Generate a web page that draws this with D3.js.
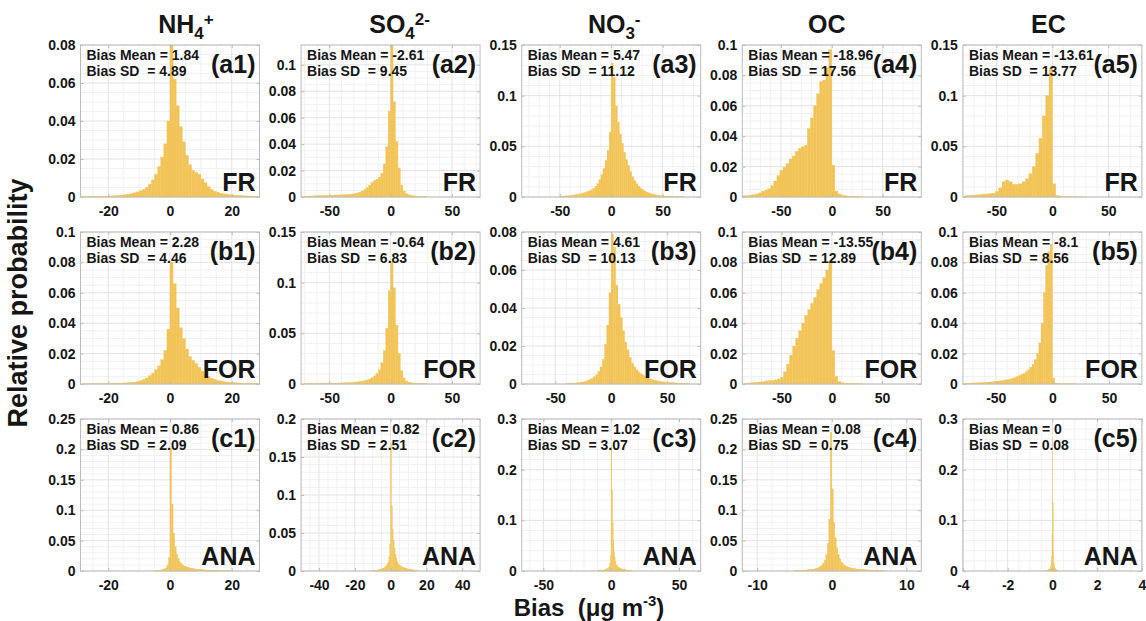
<!DOCTYPE html>
<html>
<head>
<meta charset="utf-8">
<script src="https://cdn.jsdelivr.net/npm/d3@7"></script>
<style>
body { margin: 0; background: #fff; }
svg { display: block; }
</style>
</head>
<body>
<svg id="chart" width="1146" height="621"></svg>
<script>
// ---- data ----
const species = ['NH4', 'SO4', 'NO3', 'OC', 'EC'];
const titleMain = ['NH', 'SO', 'NO', 'OC', 'EC'];
const titleSub = ['4', '4', '3', '', ''];
const titleSup = ['+', '2-', '-', '', ''];
const runs = ['FR', 'FOR', 'ANA'];
const rowLetters = ['a', 'b', 'c'];

const biasMean = [
  [1.84, -2.61, 5.47, -18.96, -13.61],
  [2.28, -0.64, 4.61, -13.55, -8.1],
  [0.86, 0.82, 1.02, 0.08, 0]
];
const biasSD = [
  [4.89, 9.45, 11.12, 17.56, 13.77],
  [4.46, 6.83, 10.13, 12.89, 8.56],
  [2.09, 2.51, 3.07, 0.75, 0.08]
];

// axis ranges and ticks
const xLimits = [
  [[-29, 29], [-73, 73], [-87, 87], [-88, 88], [-80, 80]],
  [[-29, 29], [-73, 73], [-80, 80], [-89, 89], [-79, 79]],
  [[-29, 29], [-50, 50], [-66, 66], [-12, 12], [-4, 4]]
];
const yMax = [
  [0.08, 0.115, 0.15, 0.1, 0.15],
  [0.1, 0.15, 0.08, 0.1, 0.1],
  [0.25, 0.2, 0.3, 0.25, 0.3]
];
const xTicks = [
  [[-20, 0, 20], [-50, 0, 50], [-50, 0, 50], [-50, 0, 50], [-50, 0, 50]],
  [[-20, 0, 20], [-50, 0, 50], [-50, 0, 50], [-50, 0, 50], [-50, 0, 50]],
  [[-20, 0, 20], [-40, -20, 0, 20, 40], [-50, 0, 50], [-10, 0, 10], [-4, -2, 0, 2, 4]]
];
const yTicks = [
  [[0, 0.02, 0.04, 0.06, 0.08], [0, 0.02, 0.04, 0.06, 0.08, 0.1], [0, 0.05, 0.1, 0.15], [0, 0.02, 0.04, 0.06, 0.08, 0.1], [0, 0.05, 0.1, 0.15]],
  [[0, 0.02, 0.04, 0.06, 0.08, 0.1], [0, 0.05, 0.1, 0.15], [0, 0.02, 0.04, 0.06, 0.08], [0, 0.02, 0.04, 0.06, 0.08, 0.1], [0, 0.02, 0.04, 0.06, 0.08, 0.1]],
  [[0, 0.05, 0.1, 0.15, 0.2, 0.25], [0, 0.05, 0.1, 0.15, 0.2], [0, 0.1, 0.2, 0.3], [0, 0.05, 0.1, 0.15, 0.2, 0.25], [0, 0.1, 0.2, 0.3]]
];

// histogram bins: left edge of first bin and bin width
const binStart = [
  [-29, -70, -50, -87, -78],
  [-29, -70, -40, -87, -78],
  [-5, -10, -10, -5, -0.3]
];
const binWidth = [
  [1, 2, 2, 3, 3],
  [1, 2, 2, 3, 2],
  [0.5, 0.5, 0.5, 0.2, 0.02]
];

// relative probability per bin
const nh4FR = [0.0001,0.0001,0.0002,0.0002,0.0002,0.0003,0.0003,0.0004,0.0005,
  0.0005,0.0006,0.0007,0.0008,0.0010,0.0012,0.0015,0.0018,0.0022,0.0027,
  0.0033,0.004,0.005,0.0068,0.009,0.012,0.016,0.021,0.028,0.040,
  0.080,0.062,0.048,0.037,0.029,0.022,0.017,0.014,0.013,0.012,
  0.0095,0.0075,0.0055,0.004,0.003,0.0025,0.002,0.0017,0.0014,0.0012,
  0.001,0.0009,0.0008,0.0007,0.0006,0.0005,0.0004,0.0004,0.0003];
const so4FR = [0.0006,0.0007,0.0007,0.0008,0.0009,0.0010,0.0010,0.0011,0.0012,0.0012,
  0.0013,0.0014,0.0015,0.0015,0.0016,0.0017,0.0018,0.0019,0.0021,0.0023,
  0.0026,0.0030,0.0036,0.0045,0.0055,0.0072,0.009,0.011,0.0125,0.0135,
  0.015,0.018,0.025,0.038,0.065,0.115,0.072,0.042,0.022,0.009,
  0.0045,0.0025,0.0017,0.0012,0.0009,0.0007,0.0005,0.0004,0.0003,0.0002];
const no3FR = [0.0008,0.0009,0.001,0.0012,0.0014,0.0016,0.0019,0.0022,0.0026,0.003,
  0.0035,0.004,0.0046,0.0053,0.006,0.007,0.0085,0.0105,0.013,0.017,
  0.022,0.028,0.036,0.046,0.064,0.132,0.118,0.090,0.074,0.062,
  0.053,0.044,0.037,0.031,0.025,0.020,0.016,0.013,0.0105,0.0085,
  0.007,0.0058,0.0048,0.004,0.0033,0.0027,0.0022,0.0018,0.0015,0.0012,
  0.001,0.0008,0.0007,0.0006,0.0005,0.0004,0.0003,0.0003,0.0002,0.0002];
const ocFR = [0.0008,0.001,0.0013,0.0016,0.002,0.0027,0.0038,0.0045,0.0055,0.0075,
  0.0105,0.014,0.0175,0.0195,0.022,0.025,0.027,0.030,0.032,0.033,
  0.034,0.045,0.052,0.060,0.068,0.076,0.077,0.085,0.097,0.021,
  0.004,0.002,0.0012,0.0008,0.0005,0.0004,0.0003,0.0002,0.0001];
const ecFR = [0.0015,0.0016,0.0018,0.002,0.0023,0.0026,0.003,0.0033,0.0038,0.0055,
  0.009,0.015,0.0168,0.015,0.0125,0.0125,0.013,0.015,0.018,0.023,
  0.030,0.043,0.058,0.080,0.100,0.127,0.013,0.0015,0.0006,0.0004,
  0.0003,0.0002,0.0002,0.0001,0.0001,0.0001];

const nh4FOR = [0,0.0001,0.0001,0.0001,0.0001,0.0002,0.0002,0.0002,0.0003,
  0.0003,0.0004,0.0004,0.0005,0.0006,0.0007,0.0008,0.001,0.0012,0.0016,
  0.0022,0.003,0.004,0.0055,0.0072,0.0095,0.012,0.016,0.022,0.036,
  0.080,0.066,0.050,0.037,0.030,0.023,0.018,0.0155,0.0135,0.011,
  0.0085,0.0065,0.005,0.0038,0.003,0.0024,0.002,0.0016,0.0013,0.0011,
  0.0009,0.0008,0.0007,0.0006,0.0005,0.0004,0.0003,0.0003,0.0002];
const so4FOR = [0.0003,0.0003,0.0003,0.0004,0.0004,0.0004,0.0005,0.0005,0.0006,0.0006,
  0.0007,0.0007,0.0008,0.0009,0.0010,0.0011,0.0012,0.0013,0.0014,0.0016,
  0.0018,0.0021,0.0024,0.0028,0.0033,0.0040,0.0050,0.0062,0.0080,0.0105,
  0.014,0.021,0.033,0.055,0.092,0.121,0.095,0.058,0.030,0.013,
  0.006,0.003,0.0018,0.0012,0.0009,0.0007,0.0005,0.0004,0.0003,0.0002];
const no3FOR = [0.0003,0.0004,0.0004,0.0005,0.0006,0.0007,0.0009,0.0011,0.0014,0.0018,
  0.0023,0.003,0.0038,0.0048,0.0065,0.009,0.013,0.021,0.031,0.048,
  0.079,0.072,0.052,0.042,0.035,0.028,0.022,0.018,0.014,0.011,
  0.009,0.0075,0.0063,0.0053,0.0045,0.0038,0.0032,0.0027,0.0023,0.002,
  0.0017,0.0015,0.0013,0.0011,0.001,0.0009,0.0008,0.0007,0.0006,0.0005,
  0.0004,0.0004,0.0003,0.0003,0.0002];
const ocFOR = [0.0004,0.0006,0.0008,0.001,0.0012,0.0014,0.0017,0.002,0.0022,0.0024,
  0.0027,0.0033,0.0045,0.008,0.013,0.019,0.025,0.030,0.035,0.040,
  0.045,0.049,0.053,0.057,0.062,0.066,0.070,0.075,0.080,0.022,
  0.005,0.0015,0.0008,0.0005,0.0004,0.0003,0.0002,0.0002,0.0001];
const ecFOR = [0.0005,0.0005,0.0006,0.0006,0.0007,0.0007,0.0008,0.0009,0.001,0.0011,
  0.0012,0.0013,0.0014,0.0016,0.0018,0.002,0.0022,0.0024,0.0027,0.003,
  0.0033,0.0037,0.0042,0.0048,0.0055,0.0062,0.007,0.008,0.0092,0.011,
  0.013,0.016,0.020,0.027,0.040,0.060,0.078,0.087,0.092,0.004,
  0.0006,0.0003,0.0002,0.0002,0.0001,0.0001,0.0001,0.0001,0.0001];

const nh4ANA = [0.0005,0.0007,0.001,0.0013,0.0018,0.0025,0.0035,0.005,0.009,0.022,
  0.202,0.110,0.062,0.040,0.028,0.020,0.015,0.012,0.0095,0.008,
  0.0068,0.006,0.0053,0.0047,0.0042,0.0038,0.0034,0.003,0.0027,0.0025,
  0.0022,0.002,0.0018,0.0016,0.0015,0.0013,0.0012,0.0011,0.001,0.0009,
  0.0008,0.0007,0.0007,0.0006,0.0006,0.0005,0.0005,0.0004,0.0004,0.0003];
const so4ANA = [0.0008,0.0009,0.001,0.0011,0.0012,0.0013,0.0015,0.0017,0.002,0.0023,
  0.0027,0.0032,0.0038,0.0045,0.0055,0.007,0.009,0.012,0.018,0.035,
  0.168,0.085,0.055,0.040,0.030,0.022,0.017,0.013,0.010,0.008,
  0.007,0.0062,0.0055,0.005,0.0045,0.004,0.0036,0.0032,0.0029,0.0026,
  0.0024,0.0021,0.0019,0.0017,0.0015,0.0014,0.0012,0.0011,0.001,0.0009];
const no3ANA = [0.0006,0.0007,0.0008,0.0009,0.001,0.0011,0.0012,0.0014,0.0016,0.0018,
  0.0021,0.0024,0.0028,0.0033,0.004,0.005,0.0065,0.009,0.015,0.03,
  0.245,0.16,0.095,0.06,0.038,0.026,0.019,0.014,0.011,0.009,
  0.0075,0.0065,0.0057,0.005,0.0045,0.004,0.0036,0.0032,0.0029,0.0026,
  0.0023,0.0021,0.0019,0.0017,0.0015,0.0014,0.0013,0.0012,0.0011,0.001];
const ocANA = [0.0009,0.001,0.001,0.0011,0.0012,0.0013,0.0014,0.0015,0.0017,0.0019,
  0.0021,0.0024,0.0028,0.0033,0.0039,0.0047,0.0058,0.0072,0.0095,0.013,
  0.018,0.027,0.045,0.085,0.228,0.135,0.080,0.055,0.038,0.027,
  0.020,0.015,0.012,0.0095,0.008,0.0068,0.006,0.0052,0.0046,0.0041,
  0.0037,0.0033,0.003,0.0027,0.0025,0.0023,0.0021,0.0019,0.0018,0.0017,
  0.0016,0.0015,0.0014,0.0013,0.0012,0.0011,0.001,0.001,0.0009,0.0009];
const ecANA = [0.0006,0.0007,0.0008,0.001,0.0012,0.0015,0.0019,0.0024,0.0031,0.004,
  0.0055,0.008,0.013,0.028,0.072,0.263,0.135,0.04,0.016,0.009,
  0.006,0.0045,0.0034,0.0026,0.002,0.0016,0.0013,0.0011,0.0009,0.0007];

const histograms = [
  [nh4FR, so4FR, no3FR, ocFR, ecFR],
  [nh4FOR, so4FOR, no3FOR, ocFOR, ecFOR],
  [nh4ANA, so4ANA, no3ANA, ocANA, ecANA]
];

// ---- layout ----
const FONT = '"Liberation Sans", Arial, Helvetica, sans-serif';
const PLOT_W = 179, PLOT_H = 152;
const LEFT0 = 80.5, COL_STEP = 220.6, TOP0 = 45, ROW_STEP = 187;
const TITLE_SHIFT = [16, 9, 3, -5, -4];
const BAR_COLOR = '#F2C457';
const AXIS_COLOR = '#bcbcbc';
const TEXT_COLOR = '#161616';

const svg = d3.select('#chart')
  .style('font-family', FONT)
  .style('font-weight', 'bold');

const fmt = v => String(+v.toFixed(4));

// minor grid positions (4 steps for a "2" step, 5 otherwise)
function minorValues(domain, ticks) {
  const step = ticks[1] - ticks[0];
  const mag = Math.pow(10, Math.floor(Math.log10(step)));
  const lead = Math.round(step / mag);
  const ms = step / (lead === 2 ? 4 : 5);
  const out = [];
  for (let k = Math.ceil(domain[0] / ms - 1e-9); k * ms <= domain[1] + 1e-9; k++) out.push(k * ms);
  return out;
}

function styleAxis(sel) {
  sel.attr('font-size', 14).attr('font-family', FONT);
  sel.select('.domain').remove();
  sel.selectAll('.tick line').attr('stroke', AXIS_COLOR);
  sel.selectAll('.tick text').attr('fill', TEXT_COLOR).style('font-weight', 'bold');
}

runs.forEach((run, r) => {
  species.forEach((sp, c) => {
    const left = LEFT0 + c * COL_STEP, top = TOP0 + r * ROW_STEP;
    const g = svg.append('g').attr('transform', `translate(${left},${top})`);
    const x = d3.scaleLinear().domain(xLimits[r][c]).range([0, PLOT_W]);
    const y = d3.scaleLinear().domain([0, yMax[r][c]]).range([PLOT_H, 0]);
    const xt = xTicks[r][c], yt = yTicks[r][c];

    // grid: minor then major
    const grid = g.append('g');
    const mx = minorValues(x.domain(), xt).filter(v => !xt.some(t => Math.abs(t - v) < 1e-9));
    const my = minorValues(y.domain(), yt).filter(v => !yt.some(t => Math.abs(t - v) < 1e-9));
    grid.selectAll('.mxl').data(mx).enter().append('line')
      .attr('x1', d => x(d)).attr('x2', d => x(d)).attr('y1', 0).attr('y2', PLOT_H)
      .attr('stroke', '#f1f1f1');
    grid.selectAll('.myl').data(my).enter().append('line')
      .attr('y1', d => y(d)).attr('y2', d => y(d)).attr('x1', 0).attr('x2', PLOT_W)
      .attr('stroke', '#f1f1f1');
    grid.selectAll('.gx').data(xt).enter().append('line')
      .attr('x1', d => x(d)).attr('x2', d => x(d)).attr('y1', 0).attr('y2', PLOT_H)
      .attr('stroke', '#e3e3e3');
    grid.selectAll('.gy').data(yt).enter().append('line')
      .attr('y1', d => y(d)).attr('y2', d => y(d)).attr('x1', 0).attr('x2', PLOT_W)
      .attr('stroke', '#e3e3e3');

    // histogram bars
    const x0 = binStart[r][c], bw = binWidth[r][c];
    g.append('g').selectAll('rect').data(histograms[r][c]).enter().append('rect')
      .attr('x', (d, i) => x(x0 + i * bw))
      .attr('width', (d, i) => x(x0 + (i + 1) * bw) - x(x0 + i * bw))
      .attr('y', d => y(Math.min(d, yMax[r][c])))
      .attr('height', d => PLOT_H - y(Math.min(d, yMax[r][c])))
      .attr('fill', BAR_COLOR)
      .attr('stroke', BAR_COLOR)
      .attr('stroke-width', 0.3);

    // box
    g.append('rect').attr('width', PLOT_W).attr('height', PLOT_H)
      .attr('fill', 'none').attr('stroke', AXIS_COLOR);

    // axes (ticks inside)
    g.append('g').attr('transform', `translate(0,${PLOT_H})`)
      .call(d3.axisBottom(x).tickValues(xt).tickFormat(fmt).tickSizeInner(-3).tickSizeOuter(0).tickPadding(9))
      .call(styleAxis);
    g.append('g')
      .call(d3.axisLeft(y).tickValues(yt).tickFormat(fmt).tickSizeInner(-3).tickSizeOuter(0).tickPadding(5))
      .call(styleAxis);
    g.append('g')
      .call(d3.axisTop(x).tickValues(xt).tickFormat('').tickSizeInner(-3).tickSizeOuter(0))
      .call(styleAxis);
    g.append('g').attr('transform', `translate(${PLOT_W},0)`)
      .call(d3.axisRight(y).tickValues(yt).tickFormat('').tickSizeInner(-3).tickSizeOuter(0))
      .call(styleAxis);

    // annotations
    g.append('text').attr('x', 6).attr('y', 15)
      .style('white-space', 'pre').attr('font-size', 14).attr('fill', TEXT_COLOR)
      .text('Bias Mean = ' + biasMean[r][c]);
    g.append('text').attr('x', 6).attr('y', 31)
      .style('white-space', 'pre').attr('font-size', 14).attr('fill', TEXT_COLOR)
      .text('Bias SD  = ' + biasSD[r][c]);
    g.append('text').attr('x', PLOT_W - 4).attr('y', 28)
      .attr('text-anchor', 'end').attr('font-size', 25).attr('fill', TEXT_COLOR)
      .text('(' + rowLetters[r] + (c + 1) + ')');
    g.append('text').attr('x', PLOT_W - 4).attr('y', PLOT_H - 6)
      .attr('text-anchor', 'end').attr('font-size', 25).attr('fill', TEXT_COLOR)
      .text(run);
  });
});

// column titles
species.forEach((sp, c) => {
  const t = svg.append('text')
    .attr('x', LEFT0 + c * COL_STEP + PLOT_W / 2 + TITLE_SHIFT[c]).attr('y', 33)
    .attr('text-anchor', 'middle').attr('font-size', 25).attr('fill', TEXT_COLOR);
  t.append('tspan').text(titleMain[c]);
  if (titleSub[c]) t.append('tspan').attr('font-size', 17).attr('dy', 6).text(titleSub[c]);
  if (titleSup[c]) t.append('tspan').attr('font-size', 17).attr('dy', -14).text(titleSup[c]);
});

// axis titles
svg.append('text')
  .attr('transform', 'translate(27,303) rotate(-90)')
  .attr('text-anchor', 'middle').attr('font-size', 27).attr('fill', TEXT_COLOR)
  .text('Relative probability');

const xl = svg.append('text')
  .attr('x', 589).attr('y', 616)
  .attr('text-anchor', 'middle').attr('font-size', 24).attr('fill', TEXT_COLOR)
  .style('white-space', 'pre');
xl.append('tspan').text('Bias  (\u03bcg m');
xl.append('tspan').attr('font-size', 15).attr('dy', -10).text('-3');
xl.append('tspan').attr('dy', 10).text(')');
</script>
</body>
</html>
